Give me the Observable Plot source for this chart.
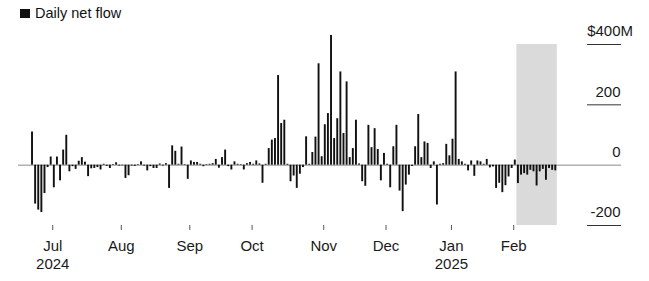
<!DOCTYPE html>
<html><head><meta charset="utf-8">
<script src="https://cdn.jsdelivr.net/npm/d3@7"></script>
<script src="https://cdn.jsdelivr.net/npm/@observablehq/plot@0.6"></script>
<style>
body{margin:0;background:#fff;font-family:"Liberation Sans",Arial,sans-serif;}
#wrap{position:relative;width:649px;height:281px;}
#legend{position:absolute;left:20px;top:5px;display:flex;align-items:center;font-size:14.5px;line-height:16px;color:#111;}
#legend .sw{width:10px;height:9px;background:#111;margin-right:5px;display:inline-block;}
</style></head><body>
<div id="wrap"><div id="legend"><span class="sw"></span><span>Daily net flow</span></div></div>
<script>
// Trading days covered (US market days)
const startDate = "2024-06-20";
const endDate = "2025-02-21";
const holidays = ["2024-07-04","2024-09-02","2024-11-28","2024-12-25","2025-01-01","2025-01-09","2025-01-20","2025-02-17"];

// Daily net flow, $M, one value per trading day, by month
const jun = [110, -129, -149, -157, -94, -8, 27];
const jul = [-75, 27, -52, 50, 99, -22, -5, -14, 13, 25, 10, -38, -12, -11, -8, -16, 3, -4, -11, 2, 8, -3];
const aug = [-2, -44, -35, -3, -4, 2, 11, -3, -19, -5, -11, -11, 4, -3, 5, -77, 64, 46, 3, 60, 2, -47];
const sep = [14, 9, 9, 3, -5, 2, 3, 5, 19, -10, 25, 50, -5, -16, 11, 3, 2, -16, 5, 9];
const oct = [3, 14, 4, -60, 3, 55, 83, 88, 297, 138, 149, 3, -55, -36, -77, -30, -8, 94, 3, 42, 93, 336, 28];
const nov = [134, 171, 430, 88, 154, 309, 105, 276, 25, 55, 149, 4, -55, -70, 132, 58, 121, 52, -52, 39];
const dec = [3, -75, 61, 132, -86, -154, -66, -33, -4, 61, 168, 25, 77, 72, -11, 11, -132, 3, 5, 69, 31];
const jan = [86, 309, 19, 11, 3, -19, 14, -37, 14, 11, 3, 19, -9, -6, -77, -60, -91, -68, -39, -11];
const feb = [17, -61, -33, -28, -33, -17, -22, -69, -22, -14, -50, -11, -17, -19];

const yTicks = [400, 200, 0, -200];
const shadeRange = ["2025-02-04", "2025-02-21"];

const fmtDay = d3.utcFormat("%Y-%m-%d");
const days = d3.utcDay.range(new Date(startDate + "T00:00Z"), d3.utcDay.offset(new Date(endDate + "T00:00Z"), 1))
  .filter(d => d.getUTCDay() % 6 !== 0 && !holidays.includes(fmtDay(d)));
const values = [...jun, ...jul, ...aug, ...sep, ...oct, ...nov, ...dec, ...jan, ...feb];
const data = days.map((date, i) => ({date, i, v: values[i]}));

const monthTicks = data.filter((d, k) => k > 0 && d.date.getUTCMonth() !== data[k - 1].date.getUTCMonth());
const labelAt = new Map(monthTicks.map((d, k) => {
  const m = d3.utcFormat("%b")(d.date);
  const withYear = k === 0 || d.date.getUTCMonth() === 0;
  return [d.i, withYear ? m + "\n" + d3.utcFormat("%Y")(d.date) : m];
}));

const idxOf = s => data.findIndex(d => fmtDay(d.date) === s);
const shade = [{x1: idxOf(shadeRange[0]), x2: idxOf(shadeRange[1]) + 1}];

const yTop = yTicks[0], yBottom = yTicks[yTicks.length - 1];
const gridFrom = 178.7;   // start of the short gridline segments under the y labels
const xMax = 189.6;

const chart = Plot.plot({
  width: 649,
  height: 281,
  marginTop: 44,
  marginBottom: 56,
  marginLeft: 18,
  marginRight: 28,
  style: {fontFamily: "'Liberation Sans', Arial, sans-serif", fontSize: "15px", color: "#1a1a1a", background: "transparent"},
  x: {type: "linear", domain: [-4, xMax], axis: null},
  y: {domain: [yBottom, yTop], axis: null},
  marks: [
    Plot.rect(shade, {x1: "x1", x2: "x2", y1: () => yBottom, y2: () => yTop, fill: "#dadada"}),
    Plot.ruleY([0], {stroke: "#8a8a8a", strokeWidth: 1}),
    Plot.rectY(data, {x1: "i", x2: d => d.i + 1, y: "v", insetLeft: 0.6, insetRight: 0.6, fill: "#111"}),
    Plot.ruleY(yTicks.filter(t => t !== 0), {y: d => d, x1: () => gridFrom, x2: () => xMax, stroke: "#333", strokeWidth: 1}),
    Plot.text(yTicks, {y: d => d, text: d => d === yTop ? "$" + d : String(d), frameAnchor: "right", textAnchor: "end", dx: -1, dy: -13, fill: "#1a1a1a"}),
    Plot.text([yTop], {y: d => d, text: () => "M", frameAnchor: "right", textAnchor: "start", dx: -1, dy: -13, fill: "#1a1a1a"}),
    Plot.axisX(monthTicks.map(d => d.i), {tickSize: 5, tickPadding: 8, tickFormat: i => labelAt.get(i), lineHeight: 1.17, stroke: "#555", fill: "#1a1a1a", label: null})
  ]
});
document.getElementById("wrap").prepend(chart);
</script>
</body></html>
